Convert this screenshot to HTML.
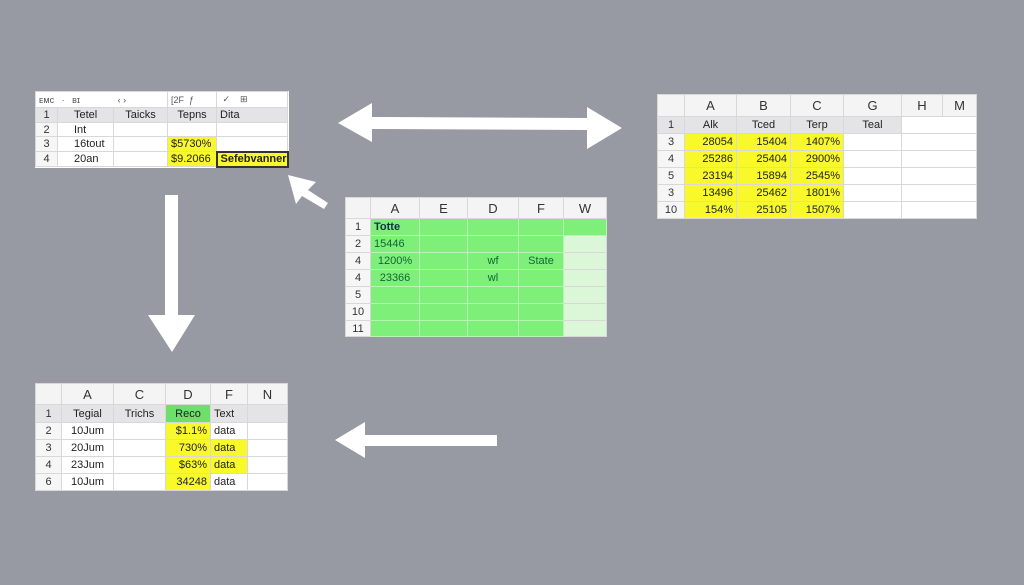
<!DOCTYPE html>
<html><head><meta charset="utf-8"><style>
*{margin:0;padding:0;box-sizing:border-box}
body{width:1024px;height:585px;background:#979aa3;position:relative;overflow:hidden;font-family:"Liberation Sans",sans-serif}
.t{position:absolute;background:#fff;border-collapse:collapse;table-layout:fixed;font-size:11px;color:#222}
.t td{border:1px solid #d8d8d8;padding:0 3px;white-space:nowrap;overflow:hidden}
.h td{background:#f4f4f4;text-align:center;font-size:13px;color:#333}
.rn{text-align:center;background:#f6f6f6;color:#333}
.g1 td{background:#e4e4e6}
.y{background:#f8f82a!important}
.gr{background:#7ef07a!important;border-color:#b6f5b2!important}
.lg{background:#dcf7d8!important}
.c{text-align:center}.r{text-align:right}
svg{position:absolute;left:0;top:0}
</style></head><body>

<!-- top-left -->
<table class="t" style="left:35px;top:91px;width:252px">
<colgroup><col style="width:22px"><col style="width:56px"><col style="width:54px"><col style="width:49px"><col style="width:71px"></colgroup>
<tr style="height:16px;font-size:9px;color:#555"><td colspan="3">ᴇᴍᴄ &nbsp; · &nbsp; ʙɪ &nbsp;&nbsp;&nbsp;&nbsp;&nbsp;&nbsp;&nbsp;&nbsp;&nbsp;&nbsp;&nbsp;&nbsp;&nbsp; ‹ ›</td><td>[2F &nbsp;ƒ</td><td>&nbsp;✓ &nbsp;&nbsp; ⊞</td></tr>
<tr style="height:15px" class="g1"><td class="rn">1</td><td style="padding-left:16px">Tetel</td><td class="c">Taicks</td><td class="c">Tepns</td><td>Dita</td></tr>
<tr style="height:14px"><td class="rn">2</td><td style="padding-left:16px">Int</td><td></td><td></td><td></td></tr>
<tr style="height:15px"><td class="rn">3</td><td style="padding-left:16px">16tout</td><td></td><td class="y">$5730%</td><td></td></tr>
<tr style="height:15px"><td class="rn">4</td><td style="padding-left:16px">20an</td><td></td><td class="y">$9.2066</td><td class="y" style="border:2px solid #333;font-weight:bold">Sefebvanner</td></tr>
</table>

<!-- top-right -->
<table class="t" style="left:657px;top:94px;width:319px">
<colgroup><col style="width:27px"><col style="width:52px"><col style="width:54px"><col style="width:53px"><col style="width:58px"><col style="width:41px"><col style="width:34px"></colgroup>
<tr style="height:22px" class="h"><td></td><td>A</td><td>B</td><td>C</td><td>G</td><td>H</td><td>M</td></tr>
<tr style="height:17px" class="g1"><td class="rn">1</td><td class="c">Alk</td><td class="c">Tced</td><td class="c">Terp</td><td class="c">Teal</td><td colspan="2" style="background:#fff"></td></tr>
<tr style="height:17px"><td class="rn">3</td><td class="y r">28054</td><td class="y r">15404</td><td class="y r">1407%</td><td></td><td colspan="2"></td></tr>
<tr style="height:17px"><td class="rn">4</td><td class="y r">25286</td><td class="y r">25404</td><td class="y r">2900%</td><td></td><td colspan="2"></td></tr>
<tr style="height:17px"><td class="rn">5</td><td class="y r">23194</td><td class="y r">15894</td><td class="y r">2545%</td><td></td><td colspan="2"></td></tr>
<tr style="height:17px"><td class="rn">3</td><td class="y r">13496</td><td class="y r">25462</td><td class="y r">1801%</td><td></td><td colspan="2"></td></tr>
<tr style="height:17px"><td class="rn">10</td><td class="y r">154%</td><td class="y r">25105</td><td class="y r">1507%</td><td></td><td colspan="2"></td></tr>
</table>

<!-- middle -->
<table class="t" style="left:345px;top:197px;width:261px">
<colgroup><col style="width:25px"><col style="width:49px"><col style="width:48px"><col style="width:51px"><col style="width:45px"><col style="width:43px"></colgroup>
<tr style="height:21px" class="h"><td></td><td>A</td><td>E</td><td>D</td><td>F</td><td>W</td></tr>
<tr style="height:17px"><td class="rn">1</td><td class="gr" style="font-weight:bold;color:#134">Totte</td><td class="gr"></td><td class="gr"></td><td class="gr"></td><td class="gr"></td></tr>
<tr style="height:17px"><td class="rn">2</td><td class="gr" style="color:#163">15446</td><td class="gr"></td><td class="gr"></td><td class="gr"></td><td class="lg"></td></tr>
<tr style="height:17px"><td class="rn">4</td><td class="gr c" style="color:#163">1200%</td><td class="gr"></td><td class="gr c" style="color:#163">wf</td><td class="gr c" style="color:#163">State</td><td class="lg"></td></tr>
<tr style="height:17px"><td class="rn">4</td><td class="gr c" style="color:#163">23366</td><td class="gr"></td><td class="gr c" style="color:#163">wl</td><td class="gr"></td><td class="lg"></td></tr>
<tr style="height:17px"><td class="rn">5</td><td class="gr"></td><td class="gr"></td><td class="gr"></td><td class="gr"></td><td class="lg"></td></tr>
<tr style="height:17px"><td class="rn">10</td><td class="gr"></td><td class="gr"></td><td class="gr"></td><td class="gr"></td><td class="lg"></td></tr>
<tr style="height:16px"><td class="rn">11</td><td class="gr"></td><td class="gr"></td><td class="gr"></td><td class="gr"></td><td class="lg"></td></tr>
</table>

<!-- bottom-left -->
<table class="t" style="left:35px;top:383px;width:252px">
<colgroup><col style="width:26px"><col style="width:52px"><col style="width:52px"><col style="width:45px"><col style="width:37px"><col style="width:40px"></colgroup>
<tr style="height:21px" class="h"><td></td><td>A</td><td>C</td><td>D</td><td>F</td><td>N</td></tr>
<tr style="height:18px" class="g1"><td class="rn">1</td><td class="c">Tegial</td><td class="c">Trichs</td><td class="c" style="background:#6ee06a">Reco</td><td>Text</td><td></td></tr>
<tr style="height:17px"><td class="rn">2</td><td class="c">10Jum</td><td></td><td class="y r">$1.1%</td><td>data</td><td></td></tr>
<tr style="height:17px"><td class="rn">3</td><td class="c">20Jum</td><td></td><td class="y r">730%</td><td class="y">data</td><td></td></tr>
<tr style="height:17px"><td class="rn">4</td><td class="c">23Jum</td><td></td><td class="y r">$63%</td><td class="y">data</td><td></td></tr>
<tr style="height:17px"><td class="rn">6</td><td class="c">10Jum</td><td></td><td class="y r">34248</td><td>data</td><td></td></tr>
</table>

<svg width="1024" height="585">
<g fill="#fff">
<polygon points="338,123 372,103 372,117 587,118 587,107 622,128 587,149 587,130 372,129 372,142"/>
<polygon points="165,195 178,195 178,315 195,315 172,352 148,315 165,315"/>
<polygon points="335,440 365,422 365,435 497,435 497,446 365,446 365,458"/>
<polygon points="288,175 316,182 308,190 328,203 324,209 302,196 296,204"/>
</g>
</svg>
</body></html>
